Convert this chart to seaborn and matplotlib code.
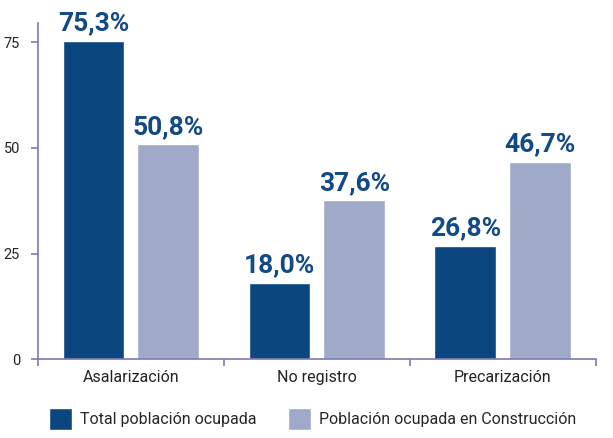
import matplotlib
matplotlib.use("Agg")
import matplotlib.pyplot as plt
import seaborn as sns
import pandas as pd
from matplotlib.patches import Patch

# datos
categorias = ["Asalarización", "No registro", "Precarización"]
series = ["Total población ocupada", "Población ocupada en Construcción"]
total_ocupada = [75.3, 18.0, 26.8]
construccion = [50.8, 37.6, 46.7]
yticks = [0, 25, 50, 75]

dark = "#0b467f"
light = "#a0a9c8"
spine_col = "#7b78b4"

df = pd.DataFrame({
    "categoria": categorias * 2,
    "serie": [series[0]] * 3 + [series[1]] * 3,
    "valor": total_ocupada + construccion,
})

sns.set_style("white")
plt.rcParams["font.family"] = ["Roboto", "DejaVu Sans"]

fig = plt.figure(figsize=(6.13, 4.38), dpi=100)
ax = fig.add_axes([0.062, 0.180, 0.910, 0.767])

sns.barplot(data=df, x="categoria", y="valor", hue="serie",
            palette=[dark, light], width=0.806, gap=0.174,
            saturation=1, legend=False, ax=ax)

for cont in ax.containers:
    for bar in cont:
        h = bar.get_height()
        ax.text(bar.get_x() + bar.get_width() / 2, h + 1.3,
                f"{h:.1f}%".replace(".", ","), ha="center", va="bottom",
                fontsize=19, fontweight="bold", color="#124a85", clip_on=False)

ax.set_ylim(0, 79.5)
ax.set_xlim(-0.5, 2.5)
ax.set_yticks(yticks)
ax.set_xticks(range(3))
ax.set_xticklabels(categorias)
ax.set_xticks([-0.5, 0.5, 1.5, 2.5], minor=True)
ax.tick_params(axis="x", which="major", bottom=False, length=0, pad=8,
               labelsize=11.5, labelcolor="#222222")
ax.tick_params(axis="x", which="minor", bottom=True, length=5, width=1.2,
               color=spine_col, direction="out")
ax.tick_params(axis="y", left=True, length=5, width=1.2, color=spine_col, direction="out",
               labelsize=10.5, labelcolor="#222222", pad=8)
ax.set_xlabel("")
ax.set_ylabel("")

for s in ["top", "right"]:
    ax.spines[s].set_visible(False)
for s in ["left", "bottom"]:
    ax.spines[s].set_color(spine_col)
    ax.spines[s].set_linewidth(1.2)

handles = [Patch(facecolor=dark, label=series[0]), Patch(facecolor=light, label=series[1])]
fig.legend(handles=handles, loc="lower center", bbox_to_anchor=(0.51, -0.015), ncol=2,
           frameon=False, fontsize=11.5, handlelength=1.4, handleheight=1.8,
           columnspacing=2.0, handletextpad=0.5)

fig.savefig("out.png", dpi=100)
